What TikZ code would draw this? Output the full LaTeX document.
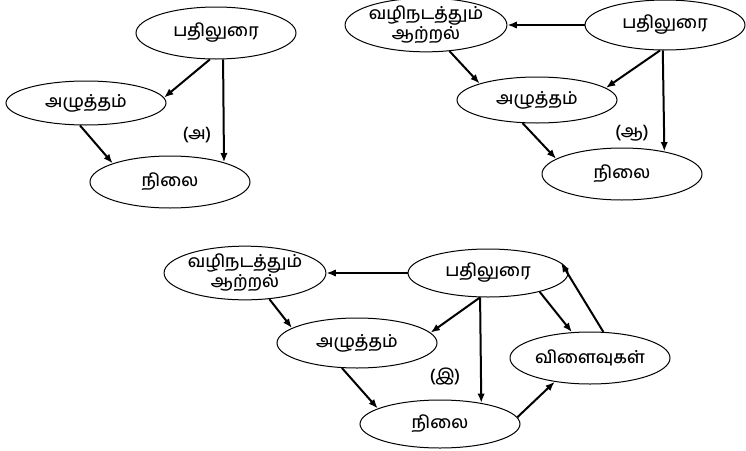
\documentclass[tikz,border=0pt]{standalone}
\usepackage{fontspec}
\newfontfamily\tamil[Script=Tamil, UprightFont={* Medium}]{Hind Madurai}
\usetikzlibrary{shapes.geometric,arrows.meta}
\tikzset{
  bubble/.style={draw, ellipse, line width=0.75pt, minimum width=120pt, minimum height=37.5pt,
    inner sep=0pt, align=center, font=\tamil\fontsize{13}{12.5}\selectfont},
  link/.style={->,>={Latex[length=7pt,width=5.5pt]}, line width=1.5pt},
  tag/.style={font=\tamil\fontsize{13}{13}\selectfont}
}
\begin{document}
\begin{tikzpicture}[x=0.75pt,y=-0.75pt]
            \useasboundingbox (0,0) rectangle (746,450);

            % (a)
            \node[bubble, minimum height=39pt] (pA) at (216,33) {பதிலுரை};
            \node[bubble, minimum height=33pt] (aA) at (86,103) {அழுத்தம்};
            \node[bubble, minimum height=39pt] (nA) at (170,182) {நிலை};
            \node[tag] (tA) at (197,135) {(அ)};
            \draw[link] (pA.-103) -- (aA.4);
            \draw[link] (pA.-75) -- (nA.20);
            \draw[link] (aA.-105) -- (nA.162);

            % (b)
            \node[bubble, minimum height=36pt] (gB) at (426,25) {வழிநடத்தும்\\ஆற்றல்};
            \node[bubble] (pB) at (665,25) {பதிலுரை};
            \node[bubble, minimum height=34.5pt] (aB) at (537,100) {அழுத்தம்};
            \node[bubble, minimum height=39pt] (nB) at (622,174) {நிலை};
            \node[tag] (tB) at (632,133) {(ஆ)};
            \draw[link] (pB.west) -- (gB.east);
            \draw[link] (pB.-101) -- (aB.10);
            \draw[link] (pB.-95) -- (nB.28);
            \draw[link] (gB.-48) -- (aB.164);
            \draw[link] (aB.-122) -- (nB.167);

            % (c)
            \node[bubble] (gC) at (245,273) {வழிநடத்தும்\\ஆற்றல்};
            \node[bubble, minimum height=36pt] (pC) at (488,273) {பதிலுரை};
            \node[bubble] (aC) at (357,343) {அழுத்தம்};
            \node[bubble, minimum height=36pt] (nC) at (440,424) {நிலை};
            \node[bubble, minimum height=39pt] (vC) at (590,358) {விளைவுகள்};
            \node[tag] (tC) at (445,377) {(இ)};
            \draw[link] (pC.west) -- (gC.east);
            \draw[link] (pC.-108) -- (aC.8);
            \draw[link] (pC.-108) -- (nC.27);
            \draw[link] (gC.-47) -- (aC.167);
            \draw[link] (aC.-121) -- (nC.166);
            \draw[link] (nC.5) -- (vC.-146);
            \draw[link] (pC.-20) -- (vC.125);
            \draw[link] (vC.63) -- (pC.8);
        \end{tikzpicture}
\end{document}
